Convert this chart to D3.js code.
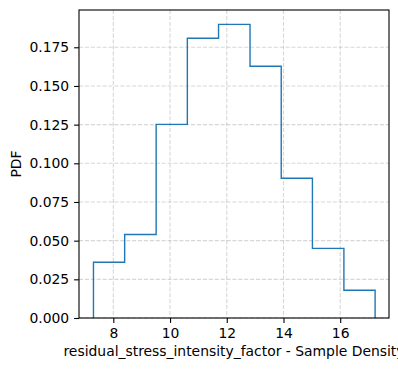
<!DOCTYPE html>
<html><head><meta charset="utf-8">
<script src="https://cdn.jsdelivr.net/npm/d3@7"></script>
<style>body{margin:0;background:#fff}svg{display:block}text{font-family:"DejaVu Sans",sans-serif}</style>
</head><body><svg id="c" width="398" height="371"></svg>
<script>
const binEdges = [7.30, 8.40, 9.51, 10.61, 11.71, 12.82, 13.92, 15.02, 16.13, 17.23];
const density = [0.036, 0.054, 0.1252, 0.1808, 0.1898, 0.1627, 0.0903, 0.0450, 0.0179];
const xTicks = [8, 10, 12, 14, 16];
const yTicks = [0, 0.025, 0.05, 0.075, 0.1, 0.125, 0.15, 0.175];
const xLabel = "residual_stress_intensity_factor - Sample Density";
const yLabel = "PDF";

const L = 79, R = 389, T = 10, B = 318;
const FS = 13.9;
const svg = d3.select("#c");
const x = d3.scaleLinear().domain([6.79, 17.72]).range([L, R]);
const y = d3.scaleLinear().domain([0, 0.1991]).range([B, T]);

// grid
const g = svg.append("g");
g.selectAll(".gx").data(xTicks).enter().append("line")
  .attr("x1", d => x(d)).attr("x2", d => x(d)).attr("y1", T).attr("y2", B)
  .attr("stroke", "#b0b0b0").attr("stroke-opacity", 0.5).attr("stroke-width", 1.1).attr("stroke-dasharray", "4.1,1.8");
g.selectAll(".gy").data(yTicks).enter().append("line")
  .attr("x1", L).attr("x2", R).attr("y1", d => y(d)).attr("y2", d => y(d))
  .attr("stroke", "#b0b0b0").attr("stroke-opacity", 0.5).attr("stroke-width", 1.1).attr("stroke-dasharray", "4.1,1.8");

// step histogram
const pts = [[binEdges[0], 0]];
density.forEach((d, i) => { pts.push([binEdges[i], d]); pts.push([binEdges[i + 1], d]); });
pts.push([binEdges[binEdges.length - 1], 0]);
svg.append("path").attr("d", d3.line().x(d => x(d[0])).y(d => y(d[1]))(pts))
  .attr("fill", "none").attr("stroke", "#1f77b4").attr("stroke-width", 1.39).attr("stroke-linejoin", "miter");

// axes
const xa = svg.append("g").attr("transform", `translate(0,${B})`)
  .call(d3.axisBottom(x).tickValues(xTicks).tickSize(4.9).tickPadding(4.9).tickFormat(d3.format("d")));
const ya = svg.append("g").attr("transform", `translate(${L},0)`)
  .call(d3.axisLeft(y).tickValues(yTicks).tickSize(4.9).tickPadding(4.9).tickFormat(d3.format(".3f")));
[xa, ya].forEach(a => {
  a.select(".domain").remove();
  a.selectAll("text").attr("font-size", FS).attr("fill", "#000").attr("font-family", "DejaVu Sans");
  a.selectAll("line").attr("stroke", "#000").attr("stroke-width", 1.1);
});
svg.append("rect").attr("x", L).attr("y", T).attr("width", R - L).attr("height", B - T)
  .attr("fill", "none").attr("stroke", "#000").attr("stroke-width", 1.1);

svg.append("text").attr("x", (L + R) / 2).attr("y", 356).attr("text-anchor", "middle")
  .attr("font-size", FS).text(xLabel);
svg.append("text").attr("transform", `translate(21,${(T + B) / 2}) rotate(-90)`).attr("text-anchor", "middle")
  .attr("font-size", FS).text(yLabel);
</script></body></html>
